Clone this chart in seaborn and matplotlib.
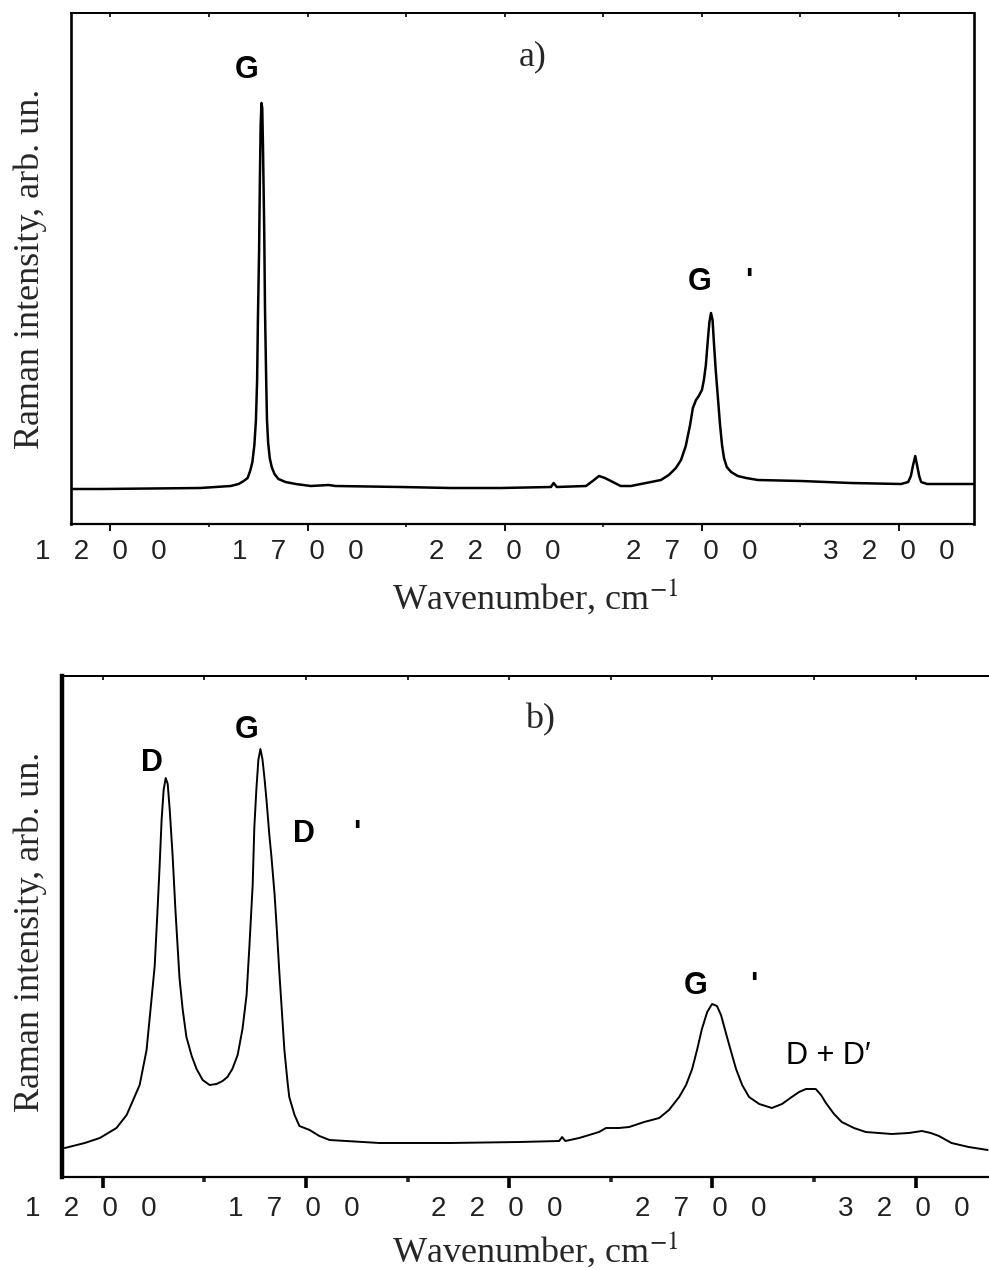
import matplotlib
matplotlib.use("Agg")
import matplotlib.pyplot as plt
import matplotlib.transforms as mtransforms
from matplotlib.ticker import FixedLocator, FixedFormatter, NullFormatter
import pandas as pd
import seaborn as sns

# ---------------- data ----------------
# panel a) : Raman spectrum (wavenumber, cm-1 ; intensity, arb. un.)
wn_a = [1104, 1175, 1302, 1428, 1505, 1525, 1538, 1548, 1555, 1560, 1565, 1569,
        1572, 1574, 1577, 1579, 1581, 1583, 1585, 1587, 1590, 1592, 1595, 1597,
        1600, 1604, 1609, 1616, 1626, 1644, 1670, 1708, 1753, 1771, 1936, 2063,
        2190, 2317, 2324, 2332, 2406, 2423, 2439, 2454, 2474, 2494, 2520, 2545,
        2571, 2596, 2616, 2634, 2647, 2659, 2670, 2677, 2685, 2692, 2700, 2705,
        2710, 2715, 2719, 2723, 2727, 2730, 2735, 2741, 2746, 2751, 2756, 2763,
        2774, 2791, 2812, 2842, 2951, 3078, 3205, 3223, 3230, 3235, 3241, 3246,
        3251, 3256, 3271, 3390]
int_a = [35, 35, 35.5, 36, 38, 40, 43, 46, 54, 62, 79, 104,
         144, 204, 274, 344, 399, 421, 416, 374, 294, 214, 144, 104,
         81, 66, 57, 50, 45, 42, 40, 38, 39, 38, 37, 36,
         36, 37, 41, 37, 38, 43, 48, 46, 42, 38, 38, 40,
         42, 44, 49, 56, 64, 78, 99, 116, 124, 128, 134, 144,
         159, 184, 202, 211, 204, 184, 154, 124, 99, 79, 66, 57,
         52, 48, 46, 44, 43, 41, 40, 42, 48, 58, 68, 58,
         48, 42, 40, 40]

# panel b)
wn_b = [1107, 1156, 1193, 1234, 1259, 1274, 1291, 1308, 1320, 1328, 1335, 1340,
        1345, 1350, 1355, 1360, 1365, 1372, 1379, 1389, 1397, 1406, 1419, 1431,
        1446, 1463, 1480, 1495, 1507, 1519, 1532, 1544, 1554, 1561, 1569, 1573,
        1578, 1583, 1588, 1593, 1598, 1603, 1610, 1615, 1623, 1628, 1635, 1640,
        1647, 1655, 1659, 1672, 1684, 1709, 1733, 1758, 1881, 2053, 2225, 2323,
        2330, 2338, 2372, 2421, 2438, 2470, 2495, 2532, 2569, 2593, 2618, 2635,
        2650, 2662, 2674, 2687, 2699, 2711, 2721, 2733, 2746, 2758, 2773, 2790,
        2815, 2846, 2871, 2895, 2913, 2930, 2954, 2967, 2979, 2999, 3018, 3048,
        3077, 3141, 3183, 3215, 3237, 3257, 3288, 3330, 3377]
int_b = [29, 34, 39, 49, 62, 76, 92, 127, 177, 211, 267, 310,
         357, 387, 399, 393, 367, 322, 267, 199, 167, 140, 121, 108,
         97, 92, 93, 96, 100, 108, 122, 148, 182, 231, 292, 349,
         387, 417, 428, 418, 399, 377, 342, 321, 282, 250, 202, 171,
         127, 94, 80, 62, 51, 47, 41, 37, 34, 34, 35, 36,
         40, 36, 39, 45, 49, 49, 50, 55, 59, 67, 80, 92,
         108, 127, 148, 165, 173, 171, 162, 144, 125, 108, 92, 80,
         73, 69, 73, 80, 85, 88, 88, 82, 74, 63, 55, 49,
         45, 43, 44, 46, 44, 41, 34, 30, 27]

major_ticks = [1200, 1700, 2200, 2700, 3200]
minor_ticks = [1450, 1950, 2450, 2950]
tick_labels = ["1   2   0   0", "1   7   0   0", "2   2   0   0",
               "2   7   0   0", "3   2   0   0"]
x_range = (1100, 3390)

df_a = pd.DataFrame({"wavenumber": wn_a, "intensity": int_a})
df_b = pd.DataFrame({"wavenumber": wn_b, "intensity": int_b})

# ---------------- style ----------------
sns.set_style("ticks")
plt.rcParams["font.family"] = ["Liberation Serif", "DejaVu Serif"]
plt.rcParams["mathtext.fontset"] = "stix"

W, H = 989, 1270
fig = plt.figure(figsize=(W / 100, H / 100), dpi=100)

def px_axes(left, top, right, bottom):
    return fig.add_axes([left / W, 1 - bottom / H, (right - left) / W, (bottom - top) / H])

ax_a = px_axes(71, 13, 974, 524)
ax_b = px_axes(62, 676, 993, 1177)

sns.lineplot(data=df_a, x="wavenumber", y="intensity", ax=ax_a, color="black",
             linewidth=1.8, estimator=None, sort=False)
sns.lineplot(data=df_b, x="wavenumber", y="intensity", ax=ax_b, color="black",
             linewidth=1.4, estimator=None, sort=False)

ax_a.set_ylim(0, 511)
ax_b.set_ylim(0, 501)

serif_size = 26

for ax, left_w, maj_len, maj_w, min_len, min_w, shift in [
        (ax_a, 1.9, 5, 1.3, 2.5, 1.3, -10),
        (ax_b, 3.2, 8, 2.6, 3.5, 2.6, -12)]:
    ax.set_xlim(*x_range)
    ax.xaxis.set_major_locator(FixedLocator(major_ticks))
    ax.xaxis.set_major_formatter(FixedFormatter(tick_labels))
    ax.xaxis.set_minor_locator(FixedLocator(minor_ticks))
    ax.xaxis.set_minor_formatter(NullFormatter())
    ax.set_yticks([])
    for s in ax.spines.values():
        s.set_linewidth(1.4)
        s.set_color("black")
    ax.spines["left"].set_linewidth(left_w)
    ax.spines["right"].set_linewidth(left_w)
    ax.spines["bottom"].set_linewidth(1.6)
    ax.tick_params(axis="x", which="major", direction="out", length=maj_len, width=maj_w,
                   pad=6, colors="black", top=False)
    ax.tick_params(axis="x", which="minor", direction="out", length=min_len, width=min_w,
                   top=False)
    for tl in ax.get_xticklabels():
        tl.set_fontfamily("Liberation Sans")
        tl.set_fontsize(20)
        tl.set_color("#222222")
        tl.set_transform(tl.get_transform() +
                         mtransforms.ScaledTranslation(shift / 100, 0, fig.dpi_scale_trans))
    # tiny inward marks on the top spine
    top = ax.secondary_xaxis("top")
    top.xaxis.set_major_locator(FixedLocator(major_ticks + minor_ticks))
    top.xaxis.set_major_formatter(NullFormatter())
    top.tick_params(axis="x", direction="in", length=3, width=1.2, colors="black")
    top.spines["top"].set_linewidth(1.4)
    ax.set_xlabel("Wavenumber, cm$^{-1}$", fontsize=serif_size)
    ax.set_ylabel("Raman intensity, arb. un.", fontsize=serif_size)
    ax.xaxis.label.set_va("center")
    ax.yaxis.label.set_va("center")

ax_a.xaxis.set_label_coords((535 - 71) / 903, -(597 - 524) / 511)
ax_a.yaxis.set_label_coords((30 - 71) / 903, 0.5)
ax_b.xaxis.set_label_coords((535 - 62) / 931, -(1250 - 1177) / 501)
ax_b.yaxis.set_label_coords((30 - 62) / 931, 0.49)

bold = dict(family="Liberation Sans", fontsize=22, fontweight="bold",
            ha="center", va="center", color="black")
reg = dict(family="Liberation Sans", fontsize=22, ha="center", va="center", color="black")
panel = dict(family="Liberation Serif", fontsize=serif_size, ha="center", va="center")

# panel a annotations
ax_a.text(1545, 454, "G", **bold)
ax_a.text(2271, 467, "a)", **panel)
ax_a.text(2695, 242, "G", **bold)
ax_a.text(2819, 242, "'", **bold)

# panel b annotations
ax_b.text(1320, 414, "D", **bold)
ax_b.text(1554, 447, "G", **bold)
ax_b.text(1694, 343, "D", **bold)
ax_b.text(1824, 343, "'", **bold)
ax_b.text(2276, 457, "b)", **panel)
ax_b.text(2659, 191, "G", **bold)
ax_b.text(2802, 191, "'", **bold)
ax_b.text(2986, 121, "D + D\u2032", **reg)

fig.savefig("out.png", dpi=100)
